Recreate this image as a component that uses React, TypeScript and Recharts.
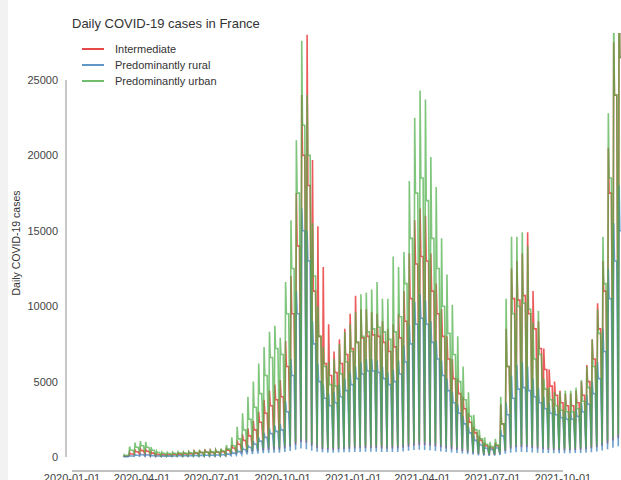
import React from 'react';
import { LineChart, Line, XAxis, YAxis, ReferenceLine } from 'recharts';

const FONT = '"Liberation Sans", Arial, sans-serif';

const seriesNames = ['Intermediate', 'Predominantly rural', 'Predominantly urban'];
const seriesKeys = ['intermediate', 'rural', 'urban'];
const seriesColors = ['#e41a1c', '#377eb8', '#4daf4a'];

const tickDates = [
  '2020-01-01', '2020-04-01', '2020-07-01', '2020-10-01',
  '2021-01-01', '2021-04-01', '2021-07-01', '2021-10-01',
];
const yTicks = [0, 5000, 10000, 15000, 20000, 25000];

// one entry per week, first week starts on this Sunday
const firstWeek = '2020-03-08';

// weekly readings: Sunday low, Monday spike, weekday level
const intermediateLow = [
  20, 80, 150, 180, 150, 100, 60, 50, 50, 60,
  70, 70, 80, 90, 100, 110, 100, 110, 120, 140,
  180, 220, 280, 330, 380, 420, 450, 480, 500, 500,
  580, 680, 820, 1000, 950, 750, 600, 520, 480, 480,
  500, 520, 550, 570, 580, 590, 600, 590, 570, 550,
  560, 580, 620, 680, 760, 800, 800, 760, 700, 640,
  580, 520, 470, 400, 330, 250, 180, 140, 120, 140,
  220, 400, 560, 640, 650, 640, 600, 560, 520, 480,
  460, 450, 450, 450, 460, 480, 520, 580, 650, 750,
  900, 1100, 1250,
];
const intermediatePeak = [
  80, 320, 500, 550, 500, 350, 230, 200, 200, 230,
  260, 280, 320, 380, 450, 500, 430, 450, 500, 620,
  800, 1100, 1500, 1900, 2400, 3000, 3800, 4400, 4800, 5100,
  7700, 12000, 17500, 24000, 28000, 19700, 15300, 12600, 8800, 7000,
  7800, 8500, 9500, 10700, 9800, 9800, 9600, 9500, 9000, 8500,
  8800, 9500, 11000, 13500, 15700, 16500, 16000, 13500, 11500, 9800,
  8000, 6500, 5200, 4000, 2900, 2000, 1400, 950, 750, 950,
  3500, 8500, 12500, 13000, 13500, 14900, 11000, 9000, 7200, 5800,
  5000, 4400, 4200, 4200, 4400, 5000, 6100, 7800, 10200, 13000,
  20500, 27500, 31000,
];
const intermediateMid = [
  50, 200, 350, 420, 380, 260, 170, 150, 150, 170,
  190, 200, 220, 260, 300, 330, 300, 320, 360, 450,
  600, 850, 1100, 1400, 1800, 2300, 2900, 3400, 3800, 4000,
  6000, 9500, 14000, 20000, 18000, 11000, 8000, 6200, 5400, 5600,
  6200, 6800, 7200, 7600, 7900, 8000, 8100, 8000, 7600, 7000,
  7300, 7900, 9000, 10500, 12800, 13300, 13000, 11000, 9500, 8000,
  6500, 5200, 4200, 3200, 2300, 1600, 1100, 750, 600, 750,
  2200, 6000, 10500, 10400, 10700, 9500, 8500, 7200, 5800, 4700,
  4100, 3600, 3400, 3400, 3600, 4100, 5000, 6500, 8500, 11000,
  17500, 24000, 26500,
];

const ruralLow = [
  10, 30, 50, 60, 50, 40, 30, 25, 25, 30,
  30, 30, 35, 40, 40, 45, 45, 50, 55, 70,
  90, 120, 150, 180, 200, 230, 250, 270, 280, 280,
  330, 400, 480, 560, 520, 420, 350, 310, 290, 290,
  300, 310, 320, 330, 340, 350, 350, 350, 340, 330,
  330, 340, 370, 410, 460, 480, 470, 440, 400, 360,
  330, 300, 270, 230, 190, 150, 110, 90, 80, 90,
  130, 220, 290, 320, 330, 320, 300, 280, 270, 260,
  250, 250, 250, 250, 260, 270, 290, 320, 370, 430,
  520, 620, 720,
];
const ruralPeak = [
  30, 100, 170, 200, 180, 120, 90, 80, 80, 90,
  100, 110, 120, 130, 140, 150, 150, 160, 190, 240,
  330, 450, 620, 800, 1050, 1300, 1600, 1900, 2100, 2200,
  3700, 6500, 11000, 16500, 15000, 9000, 6200, 4800, 4200, 4300,
  4800, 5200, 5600, 6000, 6300, 6500, 6500, 6400, 6000, 5600,
  5800, 6400, 7400, 8800, 10300, 10800, 10400, 9000, 7700, 6400,
  5200, 4300, 3500, 2700, 2000, 1400, 1000, 750, 650, 800,
  1800, 3600, 5400, 6100, 6300, 6000, 5200, 4600, 4000, 3600,
  3300, 3100, 3000, 3000, 3200, 3600, 4100, 5000, 6300, 8500,
  12500, 15500, 18000,
];
const ruralMid = [
  20, 70, 120, 150, 130, 90, 70, 60, 60, 70,
  80, 80, 90, 100, 110, 120, 120, 130, 150, 190,
  260, 360, 500, 650, 850, 1050, 1300, 1550, 1700, 1800,
  3000, 5400, 9500, 15000, 13000, 7500, 5000, 3900, 3400, 3600,
  4000, 4400, 4800, 5200, 5500, 5700, 5700, 5600, 5200, 4800,
  5000, 5500, 6300, 7500, 8800, 9200, 8800, 7600, 6500, 5400,
  4400, 3600, 2900, 2200, 1600, 1100, 800, 580, 500, 600,
  1400, 2800, 3900, 4500, 4600, 4400, 4000, 3600, 3200, 2900,
  2800, 2600, 2500, 2500, 2700, 3000, 3500, 4200, 5200, 7000,
  10500, 13000, 15000,
];

const urbanLow = [
  30, 150, 250, 300, 250, 150, 100, 80, 80, 90,
  100, 90, 100, 100, 110, 120, 130, 140, 150, 180,
  250, 300, 380, 450, 500, 550, 600, 650, 700, 650,
  750, 850, 1000, 1200, 1100, 900, 750, 650, 600, 600,
  620, 650, 680, 700, 720, 740, 750, 740, 720, 700,
  700, 720, 780, 850, 950, 1000, 1000, 950, 880, 800,
  750, 700, 650, 550, 450, 350, 250, 200, 180, 200,
  300, 500, 700, 800, 800, 800, 750, 700, 650, 600,
  580, 560, 560, 560, 580, 600, 650, 700, 800, 900,
  1100, 1300, 1500,
];
const urbanPeak = [
  150, 700, 950, 1050, 1000, 650, 400, 330, 300, 320,
  350, 330, 360, 380, 400, 420, 440, 480, 560, 800,
  1300, 2000, 2900, 4000, 5000, 6200, 7300, 8300, 8700, 7900,
  11600, 15700, 21000, 27600, 24000, 15500, 10000, 7300, 6300, 6500,
  7500, 8300, 8800, 9600, 10800, 10900, 11100, 11600, 10500, 10500,
  13300, 12600, 13600, 18300, 22500, 24300, 23700, 19900, 17900, 14500,
  12100, 10100, 8000, 6000, 4300, 2800, 1800, 1300, 1000, 1200,
  4000, 10500, 14600, 14600, 14900, 14000, 8900, 9700, 5200, 4600,
  4300, 4300, 4400, 4400, 4600, 5100, 6000, 7800, 9800, 14600,
  22800, 30000, 33000,
];
const urbanMid = [
  100, 450, 650, 750, 650, 450, 300, 250, 230, 250,
  270, 260, 280, 300, 310, 330, 340, 360, 400, 520,
  750, 1200, 1800, 2500, 3300, 4200, 5400, 6600, 7200, 6800,
  9500, 12500, 17500, 22000, 20000, 12000, 8000, 6000, 4800, 4700,
  5500, 6300, 7000, 7600, 8000, 8300, 8500, 8600, 8300, 7800,
  8300, 9300, 11500, 14500, 17500, 18500, 17000, 14500, 12500, 10000,
  8200, 6800, 5000, 3800, 2700, 1800, 1200, 850, 700, 800,
  2200, 6000, 9500, 10000, 10200, 9800, 6500, 6800, 4500, 3800,
  3400, 3100, 3000, 3000, 3200, 3700, 4600, 6000, 8200, 11500,
  18500, 24000, 26500,
];

const DAY_MS = 86400000;
const origin = Date.parse(tickDates[0]);
const toDay = (s: string) => Math.round((Date.parse(s) - origin) / DAY_MS);
const formatDay = (d: number) => new Date(origin + d * DAY_MS).toISOString().slice(0, 10);

const xTicks = tickDates.map(toDay);
const weekStart = toDay(firstWeek);

const data: Record<string, number>[] = [];
urbanMid.forEach((_, w) => {
  const sun = weekStart + 7 * w;
  data.push({ day: sun, intermediate: intermediateLow[w], rural: ruralLow[w], urban: urbanLow[w] });
  data.push({ day: sun + 1, intermediate: intermediatePeak[w], rural: ruralPeak[w], urban: urbanPeak[w] });
  data.push({ day: sun + 2, intermediate: intermediateMid[w], rural: ruralMid[w], urban: urbanMid[w] });
  data.push({ day: sun + 5, intermediate: intermediateMid[w], rural: ruralMid[w], urban: urbanMid[w] });
});

const X_MIN = -7.8;
const X_MAX = 714.5;
const Y_MIN = -928;
const Y_MAX = 28117;

const spine = '#ababab';
const tickStyle = { fontSize: 11, fill: '#444', fontFamily: FONT };

export default function App() {
  return (
    <div
      style={{
        position: 'absolute',
        left: 0,
        top: 0,
        width: 621,
        height: 480,
        background: '#fff',
        fontFamily: FONT,
        overflow: 'hidden',
      }}
    >
      <div style={{ position: 'absolute', left: 0, top: 0, width: 8, height: 480, background: '#f2f2f2' }} />
      <LineChart width={621} height={480} data={data} margin={{ top: 33, right: 0, bottom: 0, left: 0 }}>
        <XAxis
          type='number'
          dataKey='day'
          domain={[X_MIN, X_MAX]}
          allowDataOverflow
          ticks={xTicks}
          interval={0}
          tickFormatter={formatDay}
          axisLine={false}
          tickLine={false}
          tickSize={0}
          tickMargin={3}
          height={9}
          tick={tickStyle}
        />
        <YAxis
          type='number'
          domain={[Y_MIN, Y_MAX]}
          allowDataOverflow
          ticks={yTicks}
          interval={0}
          axisLine={false}
          tickLine={false}
          tickSize={0}
          tickMargin={8}
          width={66}
          tick={tickStyle}
        />
        <ReferenceLine
          segment={[{ x: X_MIN, y: 0 }, { x: X_MIN, y: yTicks[yTicks.length - 1] }]}
          stroke={spine}
          strokeWidth={1.3}
        />
        <ReferenceLine
          segment={[{ x: xTicks[0], y: Y_MIN }, { x: xTicks[xTicks.length - 1], y: Y_MIN }]}
          stroke={spine}
          strokeWidth={1.3}
        />
        {seriesKeys.map((k, i) => (
          <Line
            key={k}
            type='linear'
            dataKey={k}
            name={seriesNames[i]}
            stroke={seriesColors[i]}
            strokeOpacity={0.72}
            strokeWidth={1.6}
            dot={false}
            activeDot={false}
            isAnimationActive={false}
          />
        ))}
      </LineChart>

      <div
        style={{
          position: 'absolute',
          left: 72,
          top: 16,
          fontSize: 13,
          lineHeight: '15px',
          color: '#333',
          whiteSpace: 'nowrap',
        }}
      >
        Daily COVID-19 cases in France
      </div>

      <div style={{ position: 'absolute', left: 82, top: 41 }}>
        {seriesNames.map((n, i) => (
          <div key={n} style={{ display: 'flex', alignItems: 'center', height: 16 }}>
            <div style={{ width: 22, height: 2, background: seriesColors[i], opacity: 0.8 }} />
            <span style={{ marginLeft: 11, fontSize: 11, color: '#333', whiteSpace: 'nowrap' }}>{n}</span>
          </div>
        ))}
      </div>

      <div
        style={{
          position: 'absolute',
          left: 16 - 60,
          top: 243 - 7,
          width: 120,
          height: 14,
          lineHeight: '14px',
          textAlign: 'center',
          fontSize: 10.5,
          color: '#333',
          transform: 'rotate(-90deg)',
          whiteSpace: 'nowrap',
        }}
      >
        Daily COVID-19 cases
      </div>
    </div>
  );
}
